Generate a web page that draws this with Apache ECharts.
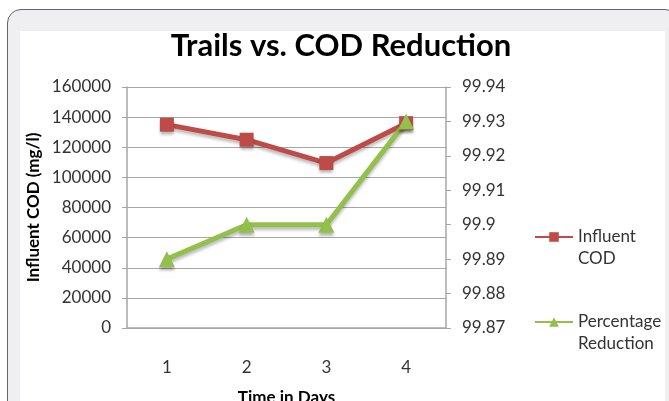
<!DOCTYPE html>
<html>
<head>
<meta charset="utf-8">
<script src="https://cdn.jsdelivr.net/npm/echarts@6/dist/echarts.min.js"></script>
<style>
    html, body { margin: 0; padding: 0; background: #ffffff; overflow: hidden; }
    #wrap { position: relative; width: 669px; height: 401px; overflow: hidden; }
    #frame { position: absolute; left: 7px; top: 9px; width: 670px; height: 420px;
             border: 1.5px solid #666; border-radius: 14px; background: #efeff1; }
    #paper { position: absolute; left: 20px; top: 31px; width: 645px; height: 380px; background: #fff; }
    #chart { position: absolute; left: 0; top: 0; width: 669px; height: 401px; }
</style>
</head>
<body>
<div id="wrap">
    <div id="frame"></div>
    <div id="paper"></div>
    <div id="chart"></div>
</div>
<script>
    // 横轴类别（天数）
    let days = ['1', '2', '3', '4'];
    // 进水 COD (mg/l)
    let influentCod = [135000, 125000, 109500, 136000];
    // 去除率 (%)
    let reduction = [99.89, 99.90, 99.90, 99.93];

    let labelFont = 'Lato';
    let textColor = '#333333';
    let gridColor = '#a6a6a6';

    let chart = echarts.init(document.getElementById('chart'), null, {renderer: 'canvas'});

    // 图例文字：首行空白使第一行与图标对齐
    let legendText = {fontFamily: labelFont, fontSize: 17, color: textColor, lineHeight: 22};

    let option = {
        backgroundColor: 'transparent',
        animation: false,
        title: {
            text: 'Trails vs. COD Reduction',
            left: 336,
            textAlign: 'center',
            top: 25,
            textStyle: {fontFamily: labelFont, fontWeight: 'bold', fontSize: 31, color: '#000'}
        },
        legend: [
            {
                data: ['Influent COD'],
                orient: 'vertical',
                left: 529,
                top: 199,
                itemWidth: 38,
                itemHeight: 12,
                formatter: function () { return ' \nInfluent\nCOD'; },
                textStyle: legendText
            },
            {
                data: ['Percentage Reduction'],
                orient: 'vertical',
                left: 529,
                top: 284,
                itemWidth: 38,
                itemHeight: 12,
                formatter: function () { return ' \nPercentage\nReduction'; },
                textStyle: legendText
            }
        ],
        grid: {left: 127, right: 223, top: 87, bottom: 73, containLabel: false, outerBoundsMode: 'none'},
        xAxis: {
            type: 'category',
            data: days,
            boundaryGap: true,
            name: 'Time in Days',
            nameLocation: 'middle',
            nameGap: 61,
            nameTextStyle: {fontFamily: labelFont, fontWeight: 'bold', fontSize: 17, color: '#000'},
            axisLine: {lineStyle: {color: gridColor, width: 1.5}},
            axisTick: {show: false},
            axisLabel: {fontFamily: labelFont, fontSize: 17, color: textColor, margin: 31}
        },
        yAxis: [
            {
                type: 'value',
                min: 0,
                max: 160000,
                interval: 20000,
                name: 'Influent COD (mg/l)',
                nameLocation: 'middle',
                nameGap: 85,
                nameTextStyle: {fontFamily: labelFont, fontWeight: 'bold', fontSize: 17, color: '#000'},
                axisLine: {show: true, lineStyle: {color: gridColor, width: 1.5}},
                axisTick: {show: true, length: 5, lineStyle: {color: gridColor}},
                axisLabel: {
                    fontFamily: labelFont, fontSize: 17, color: textColor, margin: 16,
                    formatter: function (v) { return String(v); }
                },
                splitLine: {lineStyle: {color: gridColor, width: 1.2}}
            },
            {
                type: 'value',
                min: 99.87,
                max: 99.94,
                interval: 0.01,
                axisLine: {show: true, lineStyle: {color: gridColor, width: 1.5}},
                axisTick: {show: true, length: 5, lineStyle: {color: gridColor}},
                axisLabel: {
                    fontFamily: labelFont, fontSize: 17, color: textColor, margin: 16,
                    formatter: function (v) { return String(parseFloat(v.toFixed(2))); }
                },
                splitLine: {show: false}
            }
        ],
        series: [
            {
                name: 'Influent COD',
                type: 'line',
                yAxisIndex: 0,
                data: influentCod,
                symbol: 'rect',
                symbolSize: 14,
                color: '#be4b48',
                lineStyle: {width: 5, shadowColor: 'rgba(0,0,0,0.25)', shadowBlur: 3, shadowOffsetY: 3},
                itemStyle: {shadowColor: 'rgba(0,0,0,0.3)', shadowBlur: 3, shadowOffsetY: 3}
            },
            {
                name: 'Percentage Reduction',
                type: 'line',
                yAxisIndex: 1,
                data: reduction,
                symbol: 'triangle',
                symbolSize: 16,
                color: '#92c04a',
                lineStyle: {width: 5, shadowColor: 'rgba(0,0,0,0.25)', shadowBlur: 3, shadowOffsetY: 3},
                itemStyle: {shadowColor: 'rgba(0,0,0,0.3)', shadowBlur: 3, shadowOffsetY: 3}
            }
        ]
    };

    chart.setOption(option);
</script>
</body>
</html>
